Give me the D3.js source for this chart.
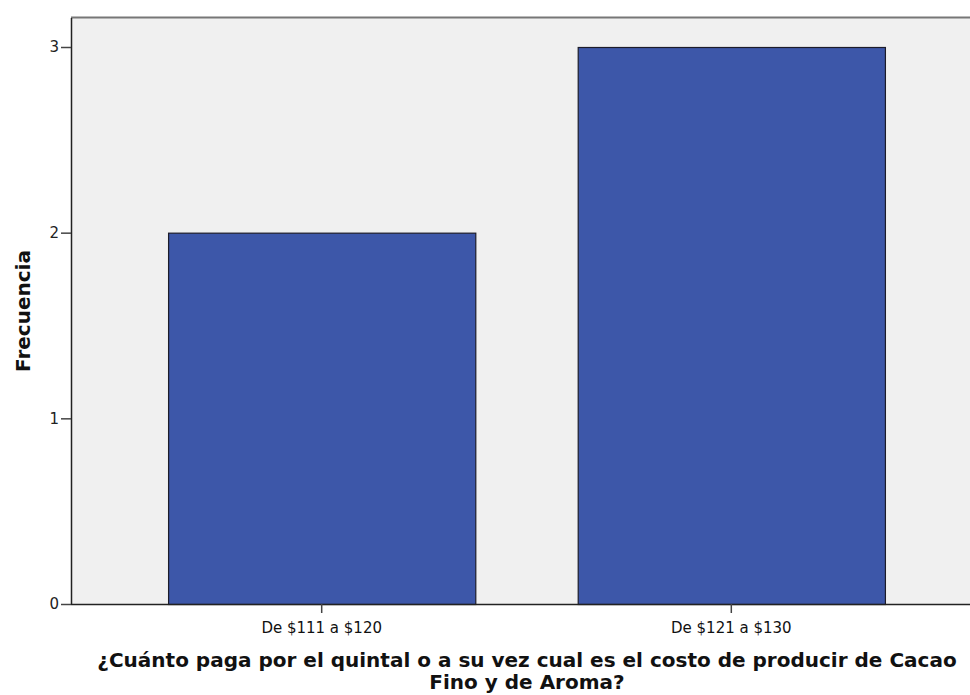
<!DOCTYPE html>
<html><head><meta charset="utf-8">
<script src="https://cdn.jsdelivr.net/npm/d3@7"></script>
<style>body{margin:0;background:#fff}svg{display:block}</style>
</head><body>
<script>
const categories = ["De $111 a $120", "De $121 a $130"];
const frequencies = [2, 3];
const yTicks = [0, 1, 2, 3];
const yLabel = "Frecuencia";
const xTitleLines = ["¿Cuánto paga por el quintal o a su vez cual es el costo de producir de Cacao", "Fino y de Aroma?"];

(function () {
const W = 970, H = 695;
const FONT = "DejaVu Sans, Verdana, sans-serif";
const svg = d3.select("body").append("svg").attr("width", W).attr("height", H);
const pL = 71, pR = 982, pT = 18, pB = 604;

const x = d3.scaleBand().domain(categories).range([pL, pR]).paddingInner(0.25).paddingOuter(0.237);
const y = d3.scaleLinear().domain([0, 3]).range([pB, 47]);

svg.append("rect").attr("x", pL).attr("y", pT).attr("width", pR - pL).attr("height", pB - pT)
  .attr("fill", "#f0f0f0");
svg.append("line").attr("x1", pL).attr("x2", W).attr("y1", pT - 0.5).attr("y2", pT - 0.5)
  .attr("stroke", "#777").attr("stroke-width", 2);

svg.selectAll("rect.bar").data(frequencies).enter().append("rect").attr("class", "bar")
  .attr("x", (d, i) => x(categories[i]) + 0.5)
  .attr("y", d => y(d) + 0.5)
  .attr("width", x.bandwidth())
  .attr("height", d => y(0) - y(d))
  .attr("fill", "#3d57a9").attr("stroke", "#1c1c2a").attr("stroke-width", 1.2);

const ya = svg.append("g").attr("transform", `translate(${pL},0)`)
  .call(d3.axisLeft(y).tickValues(yTicks).tickFormat(d3.format("d")).tickSize(10).tickPadding(2));
ya.select(".domain").attr("d", `M0.5,${pT}V${pB}`).attr("stroke", "#222").attr("stroke-width", 1.5);
ya.selectAll(".tick line").attr("stroke", "#444").attr("stroke-width", 1.5);
ya.selectAll(".tick text").attr("font-family", FONT).attr("font-size", 15).attr("fill", "#222");

const xa = svg.append("g").attr("transform", `translate(0,${pB})`)
  .call(d3.axisBottom(x).tickSize(9).tickPadding(9));
xa.select(".domain").attr("d", `M${pL},0.5H${W}`).attr("stroke", "#222").attr("stroke-width", 1.5);
xa.selectAll(".tick line").attr("stroke", "#444").attr("stroke-width", 1.5);
xa.selectAll(".tick text").attr("font-family", FONT).attr("font-size", 15).attr("fill", "#111");

svg.append("text").attr("transform", "translate(30,311) rotate(-90)").attr("text-anchor", "middle")
  .attr("font-family", FONT).attr("font-weight", "bold").attr("font-size", 20)
  .attr("fill", "#111").text(yLabel);

svg.selectAll("text.xt").data(xTitleLines).enter().append("text").attr("class", "xt")
  .attr("x", 527).attr("y", (d, i) => 667 + i * 22).attr("text-anchor", "middle")
  .attr("font-family", FONT).attr("font-weight", "bold").attr("font-size", 20)
  .attr("fill", "#111").text(d => d);
})();
</script>
</body></html>
